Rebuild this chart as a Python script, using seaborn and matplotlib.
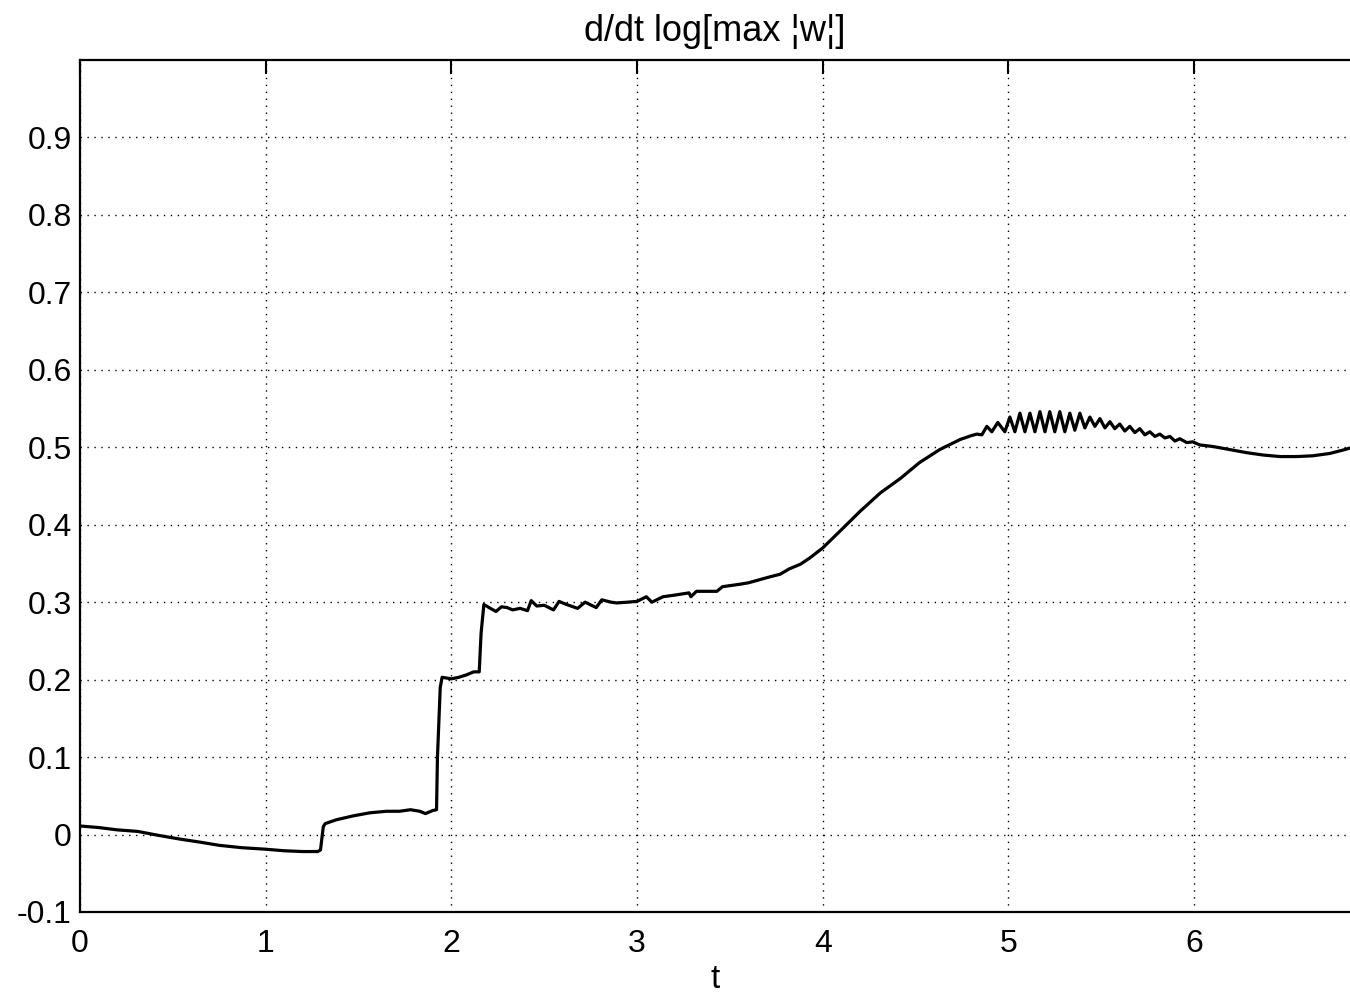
import matplotlib
matplotlib.use("Agg")
import matplotlib.pyplot as plt
import seaborn as sns
import pandas as pd

# t values and d/dt log[max|w|]
t_vals = [0.0, 0.1, 0.2, 0.31, 0.42, 0.54, 0.65, 0.75, 0.87, 1.0,
          1.1, 1.2, 1.28, 1.295, 1.31, 1.32, 1.38, 1.47, 1.56, 1.65,
          1.72, 1.78, 1.83, 1.86, 1.90, 1.92, 1.925, 1.94, 1.95, 2.0,
          2.04, 2.08, 2.12, 2.15, 2.16, 2.175, 2.21, 2.24, 2.27, 2.30,
          2.33, 2.37, 2.41, 2.43, 2.46, 2.50, 2.55, 2.58, 2.62, 2.68,
          2.72, 2.78, 2.81, 2.86, 2.89, 2.95, 3.0, 3.05, 3.08, 3.14,
          3.20, 3.28, 3.29, 3.32, 3.43, 3.46, 3.55, 3.60, 3.66, 3.72,
          3.77, 3.82, 3.88, 3.93, 4.0, 4.09, 4.2, 4.31, 4.42, 4.52,
          4.63, 4.74, 4.80, 4.83, 4.857,
          4.884, 4.911, 4.943, 4.981, 5.008, 5.035, 5.062, 5.089, 5.116, 5.143,
          5.170, 5.197, 5.223, 5.250, 5.277, 5.304, 5.331, 5.358, 5.385, 5.412,
          5.439, 5.466, 5.493, 5.520, 5.547, 5.573, 5.600, 5.627, 5.654, 5.681,
          5.708, 5.735, 5.762, 5.789, 5.816, 5.843, 5.870, 5.897, 5.923, 5.961,
          5.993, 6.031, 6.101, 6.193, 6.284, 6.371, 6.462, 6.554, 6.640, 6.731,
          6.812, 6.839]
rate_vals = [0.011, 0.009, 0.006, 0.004, -0.001, -0.006, -0.010, -0.014, -0.017, -0.019,
             -0.021, -0.022, -0.022, -0.020, 0.010, 0.014, 0.019, 0.024, 0.028, 0.030,
             0.030, 0.032, 0.030, 0.027, 0.031, 0.032, 0.10, 0.19, 0.203, 0.201,
             0.203, 0.206, 0.210, 0.210, 0.26, 0.297, 0.292, 0.288, 0.294, 0.293,
             0.290, 0.292, 0.289, 0.302, 0.295, 0.296, 0.290, 0.301, 0.297, 0.292,
             0.300, 0.293, 0.303, 0.300, 0.299, 0.300, 0.301, 0.307, 0.300, 0.307,
             0.309, 0.312, 0.307, 0.314, 0.314, 0.320, 0.323, 0.325, 0.329, 0.333,
             0.336, 0.343, 0.349, 0.357, 0.370, 0.391, 0.417, 0.441, 0.460, 0.480,
             0.497, 0.510, 0.515, 0.517, 0.516,
             0.527, 0.520, 0.532, 0.520, 0.539, 0.520, 0.544, 0.520, 0.544, 0.520,
             0.546, 0.520, 0.546, 0.520, 0.546, 0.520, 0.544, 0.522, 0.544, 0.525,
             0.539, 0.527, 0.537, 0.525, 0.533, 0.524, 0.530, 0.521, 0.527, 0.519,
             0.524, 0.516, 0.520, 0.514, 0.517, 0.512, 0.514, 0.508, 0.511, 0.506,
             0.507, 0.503, 0.501, 0.497, 0.493, 0.490, 0.488, 0.488, 0.489, 0.492,
             0.497, 0.499]

x_ticks = [0, 1, 2, 3, 4, 5, 6]
y_ticks = [-0.1, 0, 0.1, 0.2, 0.3, 0.4, 0.5, 0.6, 0.7, 0.8, 0.9]
y_labels = ["-0.1", "0", "0.1", "0.2", "0.3", "0.4", "0.5", "0.6", "0.7", "0.8", "0.9"]

df = pd.DataFrame({"t": t_vals, "rate": rate_vals})

sns.set_style("white")
plt.rcParams["font.family"] = ["Liberation Sans", "DejaVu Sans"]
plt.rcParams["text.color"] = "black"

fig = plt.figure(figsize=(13.5, 9.97), dpi=100)
ax = fig.add_axes([0.0593, 0.0853, 0.9407, 0.8545])

sns.lineplot(data=df, x="t", y="rate", estimator=None, sort=False,
             color="black", linewidth=2.3, ax=ax)

ax.set_xlim(0, 6.84)
ax.set_ylim(-0.1, 1.0)
ax.set_xticks(x_ticks)
ax.set_xticklabels([str(v) for v in x_ticks])
ax.set_yticks(y_ticks)
ax.set_yticklabels(y_labels)

ax.grid(True, linestyle=(0, (1, 4)), color="black", linewidth=1.0)
ax.tick_params(direction="in", length=10, width=1.5, labelsize=23, colors="black",
               top=True, right=False, pad=6)
ax.tick_params(axis="x", pad=12)
for side in ["left", "bottom", "top"]:
    ax.spines[side].set_color("black")
    ax.spines[side].set_linewidth(1.6)
ax.spines["right"].set_visible(False)

ax.set_xlabel("t", fontsize=24, labelpad=4, color="black")
ax.set_ylabel("")
ax.set_title("d/dt log[max \u00a6w\u00a6]", fontsize=26, pad=14, color="black")

fig.savefig("out.png", dpi=100)
